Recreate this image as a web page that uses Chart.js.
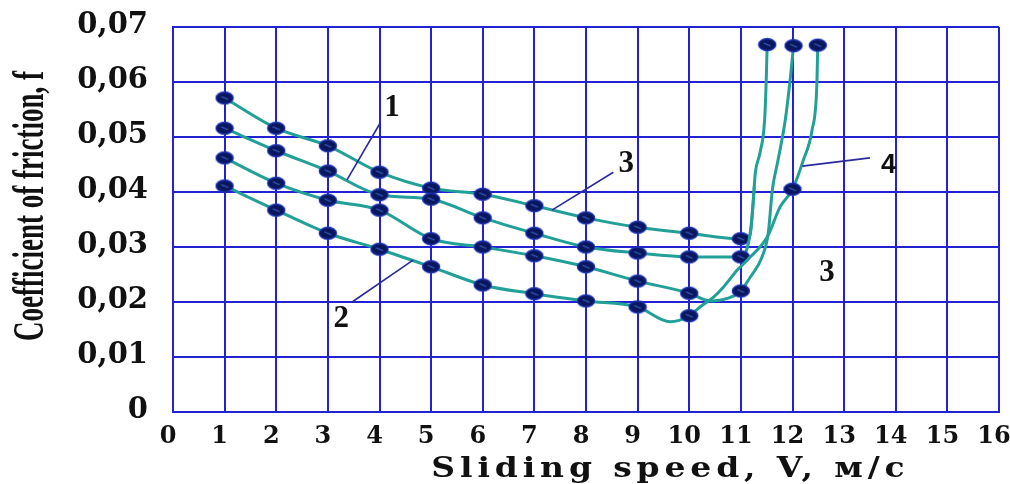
<!DOCTYPE html>
<html>
<head>
<meta charset="utf-8">
<script src="https://cdn.jsdelivr.net/npm/chart.js@4.4.0/dist/chart.umd.min.js"></script>
<style>
    html, body { margin: 0; padding: 0; background: #fff; }
    canvas { display: block; }
</style>
</head>
<body>
<canvas id="friction_view" width="1010" height="484"></canvas>
<script>
// measured curves, speed in m/s and coefficient of friction, 1 = point drawn with a marker
const curve_a_speed  = [1, 2, 3, 4, 5, 6, 7, 8, 9, 10, 11, 11.18, 11.24, 11.28, 11.37, 11.46, 11.49, 11.51];
const curve_a_coef   = [0.0571, 0.0516, 0.0484, 0.0436, 0.0407, 0.0396, 0.0375, 0.0353, 0.0336, 0.0325, 0.0315, 0.0322, 0.0385, 0.0435, 0.0471, 0.0531, 0.0600, 0.0668];
const curve_a_marker = [1, 1, 1, 1, 1, 1, 1, 1, 1, 1, 1, 0, 0, 0, 0, 0, 0, 1];

const curve_b_speed  = [1, 2, 3, 4, 5, 6, 7, 8, 9, 10, 11, 11.1, 11.18, 11.23, 11.26];
const curve_b_coef   = [0.0516, 0.0475, 0.0438, 0.0395, 0.0387, 0.0353, 0.0325, 0.0300, 0.0289, 0.0282, 0.0282, 0.0292, 0.0325, 0.0370, 0.0410];
const curve_b_marker = [1, 1, 1, 1, 1, 1, 1, 1, 1, 1, 1, 0, 0, 0, 0];

const curve_c_speed  = [1, 2, 3, 4, 5, 6, 7, 8, 9, 10, 10.4, 10.75, 11, 11.18, 11.41, 11.53, 11.61, 11.72, 11.86, 11.96, 12.02];
const curve_c_coef   = [0.0462, 0.0416, 0.0385, 0.0367, 0.0315, 0.0300, 0.0284, 0.0264, 0.0238, 0.0216, 0.0202, 0.0207, 0.0220, 0.0245, 0.0282, 0.0325, 0.0404, 0.0458, 0.0531, 0.0609, 0.0666];
const curve_c_marker = [1, 1, 1, 1, 1, 1, 1, 1, 1, 1, 0, 0, 1, 0, 0, 0, 0, 0, 0, 0, 1];

const curve_d_speed  = [1, 2, 3, 4, 5, 6, 7, 8, 9, 9.63, 10, 10.21, 10.47, 10.66, 10.93, 11.12, 11.51, 11.76, 12, 12.21, 12.38, 12.47, 12.49];
const curve_d_coef   = [0.0411, 0.0367, 0.0325, 0.0296, 0.0264, 0.0231, 0.0215, 0.0202, 0.0191, 0.0164, 0.0175, 0.0191, 0.0209, 0.0227, 0.0258, 0.0276, 0.0318, 0.0373, 0.0405, 0.0458, 0.0513, 0.0591, 0.0667];
const curve_d_marker = [1, 1, 1, 1, 1, 1, 1, 1, 1, 0, 1, 0, 0, 0, 0, 0, 0, 0, 1, 0, 0, 0, 1];

const y_tick_labels = ['0', '0,01', '0,02', '0,03', '0,04', '0,05', '0,06', '0,07'];

// curve numbers written on the plot and their pointer lines
const note_text  = ['1', '3', '2', '4', '3'];
const note_speed = [4.24, 8.78, 3.26, 13.86, 12.67];
const note_coef  = [0.0553, 0.0451, 0.0169, 0.0449, 0.0253];

const pointer_from_speed = [4.01, 8.53, 3.47, 13.5];
const pointer_from_coef  = [0.0525, 0.0436, 0.0200, 0.0462];
const pointer_to_speed   = [3.37, 7.34, 4.65, 12.19];
const pointer_to_coef    = [0.0422, 0.0367, 0.0276, 0.0447];

const grid_color = '#2222d2';
const line_color = '#22a098';

// oval dark marker as used in the original figure
function make_marker() {
    const c = document.createElement('canvas');
    c.width = 20;
    c.height = 15;
    const g = c.getContext('2d');
    g.beginPath();
    g.ellipse(10, 7.5, 8.6, 6, 0, 0, Math.PI * 2);
    g.fillStyle = '#0a165e';
    g.fill();
    g.lineWidth = 1.3;
    g.strokeStyle = '#1c34b8';
    g.stroke();
    g.beginPath();
    g.moveTo(6.5, 6);
    g.lineTo(13.5, 9);
    g.lineWidth = 1.2;
    g.strokeStyle = '#3a66b8';
    g.stroke();
    return c;
}
const marker = make_marker();

function build_dataset(speed, coef, markers) {
    return {
        data: speed.map((v, i) => ({ x: v, y: coef[i] })),
        borderColor: line_color,
        borderWidth: 3,
        fill: false,
        cubicInterpolationMode: 'monotone',
        pointStyle: marker,
        pointRadius: (ctx) => markers[ctx.dataIndex] ? 8 : 0,
        pointHoverRadius: 0
    };
}

// numbers and pointers
const notes_plugin = {
    id: 'notes_plugin',
    afterDatasetsDraw(chart) {
        const ctx = chart.ctx;
        const x = chart.scales.x;
        const y = chart.scales.y;
        ctx.save();
        ctx.strokeStyle = '#2a2a9c';
        ctx.lineWidth = 1.6;
        for (let i = 0; i < pointer_from_speed.length; i++) {
            ctx.beginPath();
            ctx.moveTo(x.getPixelForValue(pointer_from_speed[i]), y.getPixelForValue(pointer_from_coef[i]));
            ctx.lineTo(x.getPixelForValue(pointer_to_speed[i]), y.getPixelForValue(pointer_to_coef[i]));
            ctx.stroke();
        }
        ctx.fillStyle = '#111';
        ctx.textAlign = 'center';
        ctx.textBaseline = 'middle';
        for (let i = 0; i < note_text.length; i++) {
            ctx.font = note_text[i] === '4' ? 'bold 27px "Liberation Sans"' : 'bold 31px "Liberation Serif"';
            ctx.fillText(note_text[i], x.getPixelForValue(note_speed[i]), y.getPixelForValue(note_coef[i]));
        }
        ctx.restore();
    }
};

// axis titles: wide and spaced on x, condensed on y
const axis_title_plugin = {
    id: 'axis_title_plugin',
    afterLayout(chart) {
        chart.scales.x.drawTitle = function () {
            const ctx = this.ctx;
            ctx.save();
            ctx.translate(668, 477);
            ctx.scale(1.22, 1);
            ctx.font = 'bold 27px "DejaVu Serif"';
            ctx.letterSpacing = '4px';
            ctx.fillStyle = '#111';
            ctx.textAlign = 'center';
            ctx.textBaseline = 'alphabetic';
            ctx.fillText(this.options.title.text, 2, 0);
            ctx.restore();
        };
        chart.scales.y.drawTitle = function () {
            const ctx = this.ctx;
            ctx.save();
            ctx.translate(43, 206);
            ctx.rotate(-Math.PI / 2);
            ctx.scale(0.6, 1);
            ctx.font = 'bold 45px "Liberation Serif"';
            ctx.fillStyle = '#111';
            ctx.textAlign = 'center';
            ctx.textBaseline = 'alphabetic';
            ctx.fillText(this.options.title.text, 0, 0);
            ctx.restore();
        };
    }
};

const friction_chart = new Chart(document.getElementById('friction_view'), {
    type: 'line',
    data: {
        datasets: [
            build_dataset(curve_d_speed, curve_d_coef, curve_d_marker),
            build_dataset(curve_c_speed, curve_c_coef, curve_c_marker),
            build_dataset(curve_b_speed, curve_b_coef, curve_b_marker),
            build_dataset(curve_a_speed, curve_a_coef, curve_a_marker)
        ]
    },
    plugins: [axis_title_plugin, notes_plugin],
    options: {
        responsive: false,
        devicePixelRatio: 1,
        animation: false,
        layout: {
            padding: { top: 27, right: 11, bottom: 0, left: 0 }
        },
        scales: {
            x: {
                type: 'linear',
                min: 0,
                max: 16,
                ticks: {
                    stepSize: 1,
                    padding: 10,
                    labelOffset: -5,
                    color: '#111',
                    font: { family: 'DejaVu Serif', size: 24, weight: 'bold' }
                },
                grid: { color: grid_color, lineWidth: 2, drawTicks: false },
                border: { color: grid_color, width: 2 },
                title: { display: true, text: 'Sliding speed, V, м/с' },
                afterFit: (s) => {
                    s.height = 72;
                    s.paddingLeft = 0;
                    s.paddingRight = 0;
                }
            },
            y: {
                min: 0,
                max: 0.07,
                ticks: {
                    stepSize: 0.01,
                    padding: 25,
                    labelOffset: -2,
                    color: '#111',
                    font: { family: 'DejaVu Serif', size: 29, weight: 'bold' },
                    callback: (value) => y_tick_labels[Math.round(value * 100)]
                },
                grid: { color: grid_color, lineWidth: 2, drawTicks: false },
                border: { color: grid_color, width: 2 },
                title: { display: true, text: 'Coefficient of friction, f' },
                afterFit: (s) => {
                    s.width = 173;
                    s.paddingTop = 0;
                    s.paddingBottom = 0;
                }
            }
        },
        plugins: {
            legend: { display: false },
            tooltip: { enabled: false }
        }
    }
});
</script>
</body>
</html>
